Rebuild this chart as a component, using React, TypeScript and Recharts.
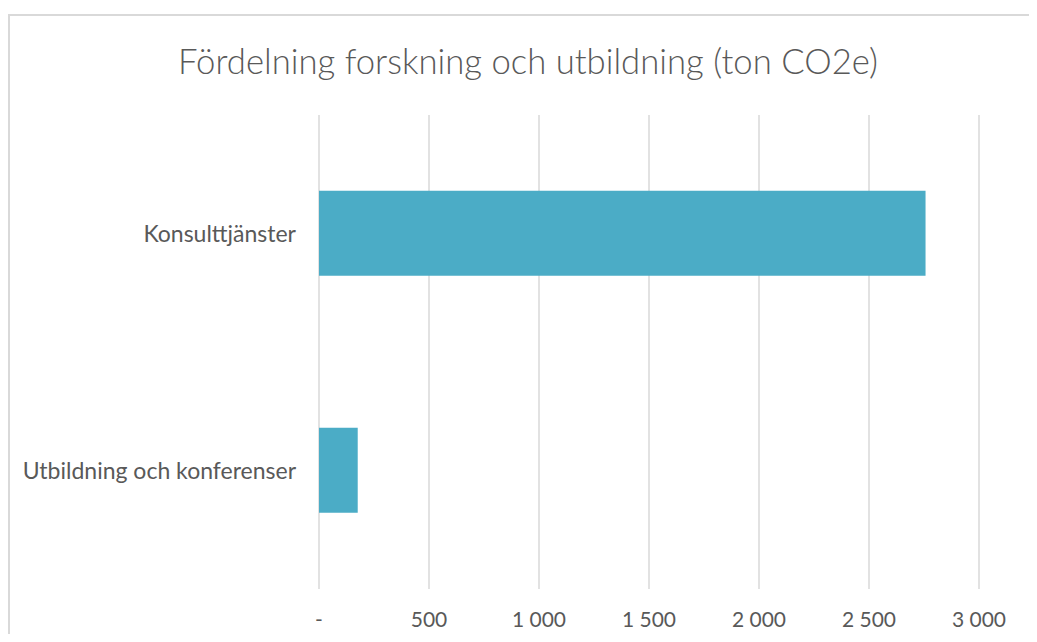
import React from 'react';
import { BarChart, Bar, XAxis, YAxis, CartesianGrid } from 'recharts';

const categories = ['Konsulttjänster', 'Utbildning och konferenser'];
const values = [2757, 176];
const xTicks = [0, 500, 1000, 1500, 2000, 2500, 3000];
const title = 'Fördelning forskning och utbildning (ton CO2e)';

const data = categories.map((name, i) => ({ name, value: values[i] }));

const fmt = (v: number) => (v === 0 ? '-' : v.toLocaleString('en-US').replace(/,/g, ' '));

export default function App() {
  return (
    // the frame runs off the right/bottom edge in the original, so only top and left are drawn
    <div
      style={{
        position: 'relative',
        marginTop: 6,
        width: 1027,
        height: 618,
        overflow: 'hidden',
        borderTop: '2px solid #d9d9d9',
        borderLeft: '2px solid #d9d9d9',
        fontFamily: 'Lato, sans-serif',
      }}
    >
      <div
        style={{
          position: 'absolute',
          top: 25,
          left: 0,
          width: 1036,
          textAlign: 'center',
          fontSize: 34.7,
          fontWeight: 300,
          color: '#595959',
          lineHeight: '40px',
        }}
      >
        {title}
      </div>
      <BarChart
        width={1027}
        height={636}
        data={data}
        layout="vertical"
        margin={{ top: 99, right: 58, left: 0, bottom: 23 }}
        barCategoryGap="32%"
      >
        <CartesianGrid horizontal={false} stroke="#d9d9d9" strokeWidth={1.5} />
        <XAxis
          type="number"
          domain={[0, 3000]}
          ticks={xTicks}
          tickFormatter={fmt}
          axisLine={false}
          tickLine={false}
          tickSize={0}
          tickMargin={23}
          height={40}
          tick={{ fill: '#595959', fontSize: 21 }}
        />
        <YAxis
          type="category"
          dataKey="name"
          width={309}
          axisLine={false}
          tickLine={false}
          tickSize={0}
          tickMargin={23}
          tick={{ fill: '#595959', fontSize: 23 }}
        />
        <Bar dataKey="value" fill="#4bacc6" isAnimationActive={false} />
      </BarChart>
    </div>
  );
}
